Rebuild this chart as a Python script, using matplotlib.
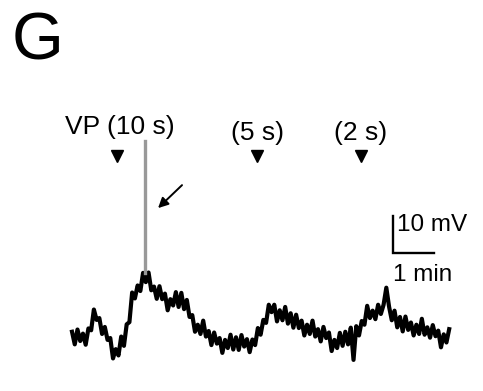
import numpy as np
import matplotlib.pyplot as plt

plt.rcParams['font.family'] = ['Liberation Sans', 'DejaVu Sans']

# membrane potential relative to rest (mV), one sample every 4 s
dt = 4.0
vm = [3.6, 0.2, 4.2, 1.1, 3.1, 0.1, 4.5, 4.0, 9.6, 6.8,
      7.3, 3.0, 4.9, 1.4, 1.9, -3.6, -1.1, -2.8, 2.3, -0.2,
      5.6, 6.2, 14.2, 12.6, 16.1, 14.6, 19.5, 17.0, 19.6, 14.8,
      15.8, 12.5, 15.9, 12.4, 13.9, 9.4, 12.4, 10.7, 14.3, 10.3,
      14.1, 9.7, 12.2, 7.6, 8.1, 3.6, 5.5, 3.0, 6.6, 2.3,
      3.8, 0.0, 3.4, 0.4, 1.9, -2.1, 1.4, -0.8, 2.8, -1.2,
      2.1, -1.3, 2.7, -0.4, 1.6, -1.9, 1.5, 0.0, 4.6, 2.8,
      6.8, 6.0, 10.9, 8.9, 10.9, 6.4, 9.4, 6.7, 10.3, 5.8,
      8.6, 4.7, 8.2, 4.6, 6.6, 2.6, 5.5, 3.0, 6.6, 2.3,
      4.3, 1.0, 4.9, 1.9, 3.4, -1.6, 1.4, -0.8, 3.3, -0.2,
      3.6, 0.2, 4.7, -4.0, 5.1, 2.6, 6.5, 5.5, 10.6, 7.3,
      9.3, 7.0, 10.9, 8.4, 10.9, 15.5, 10.4, 6.7, 9.3, 4.8,
      7.6, 3.7, 7.7, 4.1, 6.1, 2.6, 5.5, 3.0, 7.1, 2.8,
      4.8, 2.0, 5.4, 2.4, 3.9, -0.6, 2.9, 0.7, 4.3]
t = np.arange(len(vm)) * dt

# spike (action potential, drawn in grey)
spike_time = 107
spike_base = 19.5
spike_peak = 55

# stimulus times (s) and labels
stim_times = [66, 271, 423]
stim_labels = ["VP (10 s)", "(5 s)", "(2 s)"]

fig = plt.figure(figsize=(4.83, 3.91), dpi=100)
ax = fig.add_axes([0, 0, 1, 1])
ax.set_xlim(-105.4, 601.5)
ax.set_ylim(-12.4, 93.2)
ax.axis('off')

ax.plot(t, vm, color='black', lw=3.0)
ax.plot([spike_time, spike_time], [spike_base, spike_peak], color='#999999', lw=2.4)

# stimulus markers
ax.plot(stim_times, [51.1] * 3, 'v', color='black', ms=8.5)
ax.text(stim_times[0] + 4, 58.9, stim_labels[0], ha='center', va='center', fontsize=19)
for st, lab in zip(stim_times[1:], stim_labels[1:]):
    ax.text(st, 57.3, lab, ha='center', va='center', fontsize=19)

# arrow pointing at the spike
ax.annotate('', xy=(125.9, 37.0), xytext=(161, 43.2),
            arrowprops=dict(arrowstyle='-|>', color='black', lw=1.4,
                            mutation_scale=15, shrinkA=0, shrinkB=0))

# scale bar: 10 mV / 1 min
x0, y0 = 469.8, 24.9
ax.plot([x0, x0, x0 + 60], [y0 + 10, y0, y0], color='black', lw=1.7,
        solid_joinstyle='miter')
ax.text(x0 + 6, 32.4, "10 mV", ha='left', va='center', fontsize=17.5)
ax.text(x0, 18.9, "1 min", ha='left', va='center', fontsize=17.5)

# panel letter
ax.text(-49.8, 81.6, "G", ha='center', va='center', fontsize=48)

fig.savefig('out.png', dpi=100)
